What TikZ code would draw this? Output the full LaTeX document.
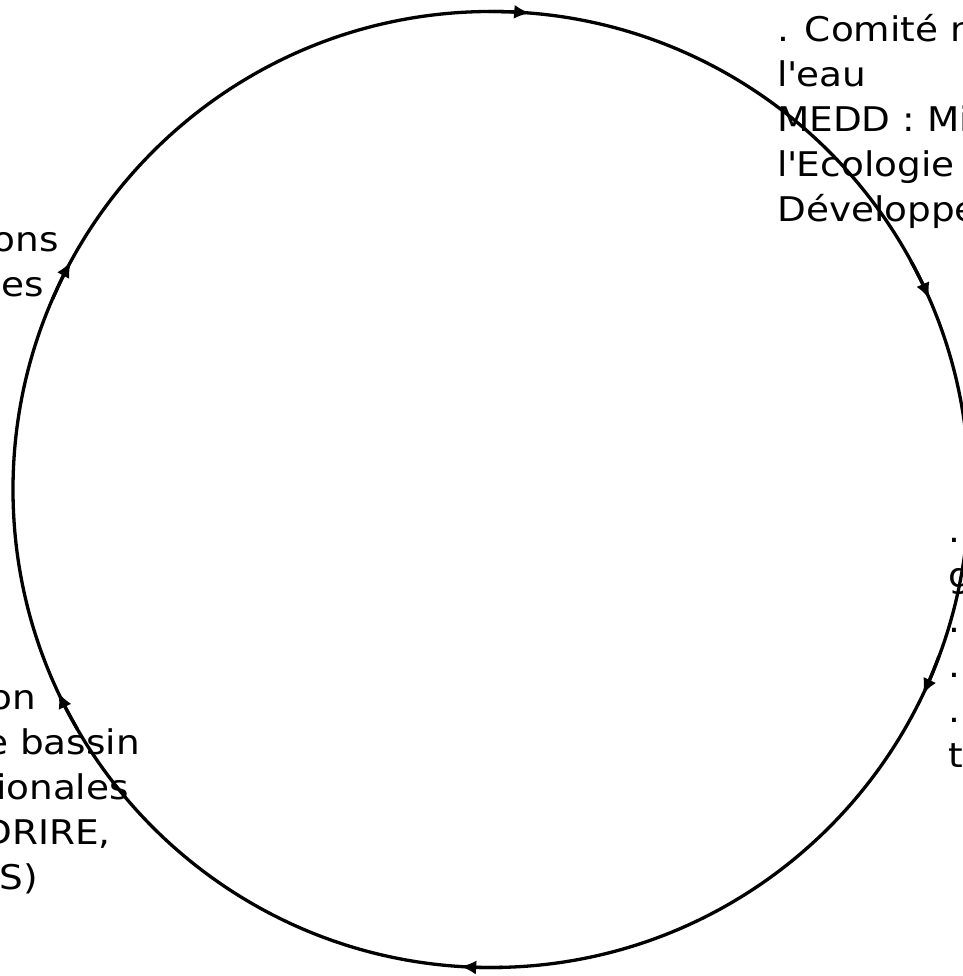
\documentclass[tikz,border=0pt]{standalone}
\usepackage{fontspec}
\setmainfont{DejaVu Sans}[FakeStretch=1.1]
\usetikzlibrary{arrows.meta}
\begin{document}
\begin{tikzpicture}[x=1bp,y=1bp,
  ring/.style={line width=3.3bp, draw=black},
  tiparc/.style={ring, -{Latex[length=16bp,width=14bp]}},
  lbl/.style={inner sep=0pt, font=\fontsize{34bp}{45bp}\selectfont, text=black}]
\useasboundingbox (0,0) rectangle (963,976);
\clip (0,0) rectangle (963,976);
\coordinate (c) at (491,486.5);
\draw[ring] (c) circle[radius=478];
\foreach \a in {85.3,23.5,-25.4,-93.7,-154.9,151.5}
  \draw[tiparc] ([shift={(\a+5:478)}]c) arc[start angle=\a+5, end angle=\a, radius=478];
\node[lbl, align=left, anchor=base west] (natl) at (777,754)
  {. Comité national de\\l\textquotesingle eau\\MEDD : Ministère de\\l\textquotesingle Ecologie et du\\Développement Durable};
\node[lbl, align=left, anchor=base west] (local) at (948,208)
  {. Syndicats de\\gestion\\. Communes\\. SAGE\\. CLE\\territoriales};
\node[lbl, align=right, anchor=base east] (users) at (59,679)
  {. Associations\\. Collectivités locales\rule{15bp}{0pt}};
\node[lbl, align=right, anchor=base east] (bassin) at (140,86)
  {. Préfet de région\rule{104bp}{0pt}\\. Préfet coordonnateur de bassin\\. Directions régionales\rule{11bp}{0pt}\\(DIREN, DRIRE,\rule{29bp}{0pt}\\DRASS)\rule{102bp}{0pt}};
\end{tikzpicture}
\end{document}
